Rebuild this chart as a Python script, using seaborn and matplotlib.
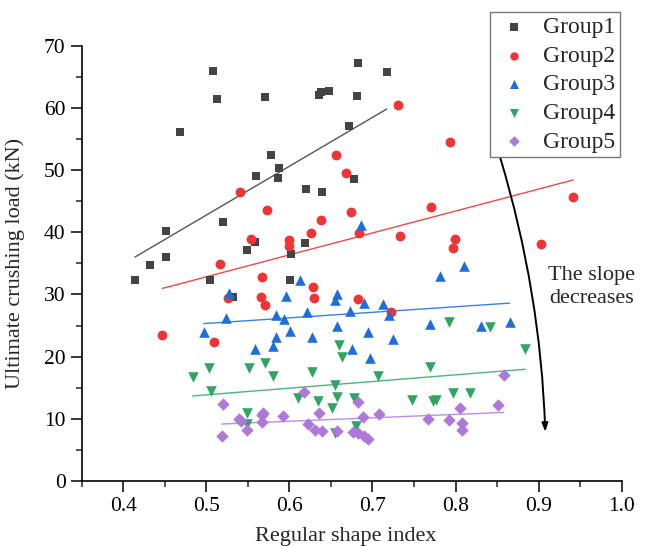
import numpy as np
import pandas as pd
import matplotlib
matplotlib.use("Agg")
import matplotlib.pyplot as plt
import seaborn as sns
from matplotlib.ticker import MultipleLocator

# ---- data ----
g1_x = [0.414, 0.432, 0.451, 0.452, 0.468, 0.504, 0.508, 0.513, 0.520, 0.532,
        0.549, 0.558, 0.560, 0.571, 0.578, 0.586, 0.587, 0.601, 0.602, 0.619,
        0.620, 0.636, 0.6375, 0.639, 0.648, 0.672, 0.678, 0.681, 0.683, 0.717]
g1_y = [32.3, 34.8, 36.1, 40.2, 56.1, 32.3, 66.0, 61.5, 41.7, 29.6,
        37.1, 38.5, 49.1, 61.7, 52.4, 48.8, 50.3, 32.3, 36.5, 38.3,
        47.0, 62.1, 62.5, 46.4, 62.7, 57.1, 48.6, 61.9, 67.2, 65.8]

g2_x = [0.447, 0.509, 0.516, 0.526, 0.540, 0.554, 0.5655, 0.5676, 0.571, 0.573,
        0.5996, 0.600, 0.6264, 0.6284, 0.6296, 0.6375, 0.6567, 0.668, 0.6736, 0.682,
        0.6832, 0.722, 0.7304, 0.7328, 0.7704, 0.7928, 0.7972, 0.7992, 0.9028, 0.9416]
g2_y = [23.4, 22.4, 34.9, 29.5, 46.4, 38.9, 29.6, 32.8, 28.3, 43.6,
        37.8, 38.8, 39.9, 31.2, 29.4, 41.9, 52.4, 49.5, 43.3, 29.2,
        39.9, 27.2, 60.5, 39.4, 44.0, 54.5, 37.4, 38.9, 38.1, 45.7]

g3_x = [0.497, 0.5232, 0.527, 0.5592, 0.5804, 0.5836, 0.584, 0.594, 0.596, 0.6012,
        0.6128, 0.6208, 0.627, 0.6552, 0.6568, 0.6576, 0.6728, 0.6756, 0.6864, 0.6903,
        0.6952, 0.6968, 0.7131, 0.7196, 0.7248, 0.7696, 0.7808, 0.8104, 0.8308, 0.8652]
g3_y = [23.9, 26.2, 30.2, 21.3, 21.7, 23.2, 26.7, 26.0, 29.7, 24.1,
        32.4, 27.1, 23.2, 29.1, 24.9, 30.0, 27.4, 21.3, 41.1, 28.7,
        24.0, 19.8, 28.4, 26.7, 22.8, 25.2, 33.0, 34.6, 24.9, 25.5]

g4_x = [0.4836, 0.5028, 0.5056, 0.5488, 0.549, 0.5512, 0.5708, 0.5804, 0.6108, 0.6268,
        0.6348, 0.6512, 0.6544, 0.6552, 0.6572, 0.660, 0.6632, 0.678, 0.680, 0.707,
        0.7476, 0.7692, 0.7732, 0.776, 0.792, 0.7964, 0.8172, 0.8412, 0.884]
g4_y = [16.8, 18.1, 14.5, 11.0, 9.1, 18.2, 19.0, 16.9, 13.4, 17.6,
        12.8, 11.7, 15.5, 7.7, 13.5, 21.8, 20.0, 13.4, 8.8, 16.9,
        13.0, 18.4, 12.9, 13.1, 25.6, 14.1, 14.1, 24.8, 21.3]

g5_x = [0.5184, 0.520, 0.539, 0.5416, 0.549, 0.5668, 0.5668, 0.5684, 0.5924, 0.6176,
        0.6228, 0.6312, 0.636, 0.6388, 0.6568, 0.677, 0.682, 0.682, 0.6892, 0.690,
        0.6952, 0.708, 0.7668, 0.792, 0.8048, 0.8076, 0.8076, 0.8516, 0.858]
g5_y = [7.2, 12.4, 10.0, 9.7, 8.2, 9.5, 10.6, 10.9, 10.4, 14.3,
        9.1, 8.2, 11.0, 8.0, 8.0, 7.8, 12.7, 7.7, 10.3, 7.2,
        6.8, 10.7, 10.0, 9.8, 11.8, 9.3, 8.2, 12.2, 17.0]

groups = ["Group1", "Group2", "Group3", "Group4", "Group5"]
colors = ["#444444", "#EE3535", "#1C6EDD", "#2FA463", "#AE78DA"]
line_colors = ["#555555", "#F04848", "#3D7FE0", "#4DB57A", "#BB8EE2"]
markers = ["s", "o", "^", "v", "D"]
sizes = [38, 50, 58, 58, 40]

xs = [g1_x, g2_x, g3_x, g4_x, g5_x]
ys = [g1_y, g2_y, g3_y, g4_y, g5_y]
df = pd.concat([pd.DataFrame({"x": x, "y": y, "group": g}) for x, y, g in zip(xs, ys, groups)],
               ignore_index=True)

sns.set_style("ticks")
plt.rcParams["font.family"] = ["Liberation Serif", "DejaVu Serif"]

fig = plt.figure(figsize=(6.46, 5.46), dpi=100)
ax = fig.add_axes([81.7 / 646, 1 - 481 / 546, 540 / 646, 435.3 / 546])

for i, g in enumerate(groups):
    sub = df[df.group == g]
    sns.scatterplot(data=sub, x="x", y="y", ax=ax, color=colors[i], marker=markers[i],
                    s=sizes[i], linewidth=0, label=g, zorder=3)
    sns.regplot(data=sub, x="x", y="y", ax=ax, scatter=False, ci=None, truncate=True,
                line_kws=dict(color=line_colors[i], lw=1.0, zorder=2))

ax.set_xlim(0.35, 1.0)
ax.set_ylim(0, 70)
ax.xaxis.set_major_locator(MultipleLocator(0.1))
ax.xaxis.set_minor_locator(MultipleLocator(0.05))
ax.yaxis.set_major_locator(MultipleLocator(10))
ax.yaxis.set_minor_locator(MultipleLocator(5))
ax.xaxis.set_major_formatter(matplotlib.ticker.FormatStrFormatter("%.1f"))
ax.tick_params(axis="both", which="major", length=8, width=1.1, labelsize=15.5, colors="black", direction="out")
ax.tick_params(axis="both", which="minor", length=4.5, width=1.1, direction="out")
for sp in ["top", "right"]:
    ax.spines[sp].set_visible(False)
for sp in ["left", "bottom"]:
    ax.spines[sp].set_linewidth(1.2)
    ax.spines[sp].set_color("black")

ax.set_xlabel("Regular shape index", fontsize=16)
ax.set_ylabel("Ultimate crushing load (kN)", fontsize=16)
ax.xaxis.set_label_coords(0.4885, -0.106)
ax.yaxis.set_label_coords(-0.105, 0.5)

handles, labels = ax.get_legend_handles_labels()
leg = ax.legend(handles, labels, loc="upper right", bbox_to_anchor=(620 / 646, 1 - 12 / 546),
                bbox_transform=fig.transFigure, fontsize=17, frameon=True, fancybox=False,
                edgecolor="#555555", borderaxespad=0, handletextpad=0.45, labelspacing=0.3,
                borderpad=0.2, handlelength=1.6, markerscale=0.85)
leg.get_frame().set_linewidth(1.0)

ax.annotate("", xy=(0.908, 7.9), xytext=(0.854, 51.9), xycoords="data",
            arrowprops=dict(arrowstyle="-|>,head_length=0.5,head_width=0.18", color="black",
                            lw=1.4, connectionstyle="arc3,rad=-0.065", shrinkA=0, shrinkB=0),
            annotation_clip=False)
ax.text(0.9636, 31.2, "The slope\ndecreases", ha="center", va="center", fontsize=16,
        linespacing=1.25, clip_on=False)

fig.savefig("out.png", dpi=100)
